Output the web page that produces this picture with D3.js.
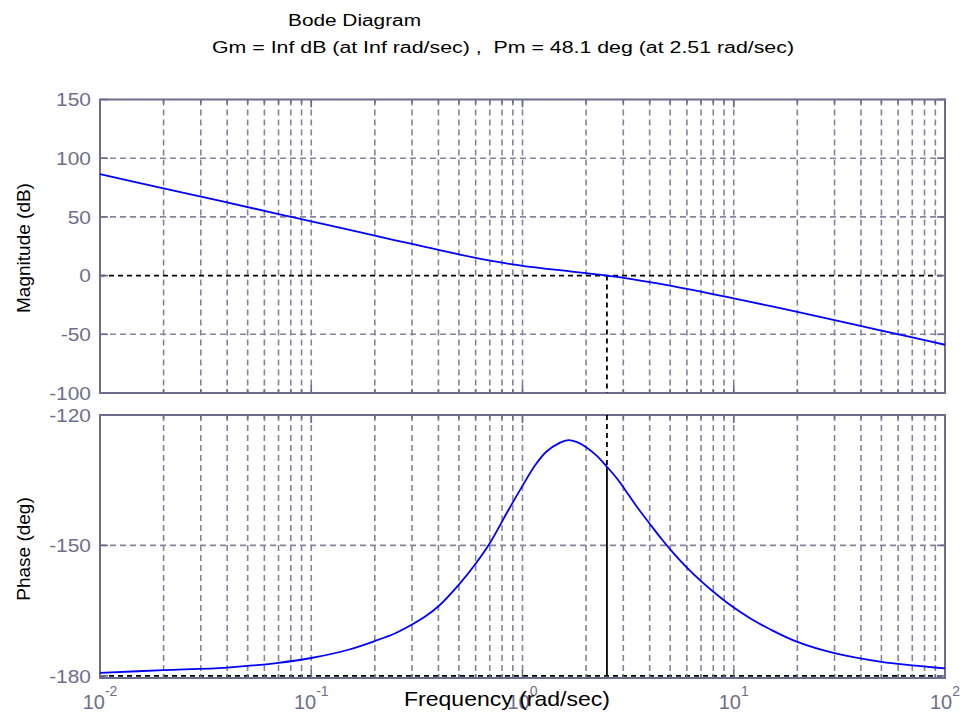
<!DOCTYPE html>
<html>
<head>
<meta charset="utf-8">
<script src="https://cdn.jsdelivr.net/npm/d3@7"></script>
<style>
  body { margin: 0; background: #fff; }
  text { font-family: "Liberation Sans", Arial, sans-serif; }
</style>
</head>
<body>
<div id="chart"></div>
<script>
        // Data
        const freq = [0.01, 0.02, 0.04, 0.07, 0.1, 0.15, 0.2, 0.25, 0.3, 0.35, 0.4, 0.5, 0.6, 0.7, 0.85, 1, 1.15, 1.3, 1.5, 1.65, 1.8, 2, 2.25, 2.51, 2.8, 3, 3.5, 4, 4.5, 5, 6, 7, 8.5, 10, 12, 15, 20, 30, 50, 70, 100];
        const magDb = [86.5, 74.3, 62.3, 52.4, 46.2, 39.1, 34.0, 30.1, 27.0, 24.3, 22.0, 18.0, 15.0, 12.7, 10.2, 8.3, 7.0, 5.8, 4.6, 3.8, 3.0, 2.1, 1.0, 0.0, -1.15, -1.9, -3.8, -5.5, -7.1, -8.6, -11.3, -13.7, -16.8, -19.4, -22.4, -26.1, -30.9, -37.9, -46.8, -52.7, -58.9];
        const phaseDeg = [-179.3, -178.7, -178.1, -177.0, -175.9, -174.0, -172.0, -170.2, -168.2, -166.2, -164.0, -159.0, -154.2, -149.5, -142.2, -136.3, -131.5, -128.4, -126.4, -125.8, -126.2, -127.4, -129.4, -131.9, -134.6, -136.6, -141.3, -145.0, -148.2, -150.9, -155.1, -158.2, -161.7, -164.3, -166.8, -169.4, -172.2, -174.8, -176.8, -177.6, -178.3];
        const magTicks = [150, 100, 50, 0, -50, -100];
        const phaseTicks = [-120, -150, -180];
        const decadeExps = [-2, -1, 0, 1, 2];
        const crossFreq = 2.51;
        const phaseAtCross = -131.9;
        const titleLine1 = "Bode Diagram";
        const titleLine2 = "Gm = Inf dB (at Inf rad/sec) ,  Pm = 48.1 deg (at 2.51 rad/sec)";

        const width = 963;
        const height = 715;
        const axisColor = "#6c6c8c";
        const gridColor = "#8484a0";
        const labelColor = "#6e6e8a";

        const svg = d3.select("#chart")
            .append("svg")
            .attr("width", width)
            .attr("height", height);

        const x = d3.scaleLog().domain([0.01, 100]).range([100, 945]);
        const yMag = d3.scaleLinear().domain([-100, 150]).range([393, 99.5]);
        const yPh = d3.scaleLinear().domain([-180.5, -120]).range([678, 415]);

        // all 1..9 x 10^n positions
        const gridX = [];
        decadeExps.slice(0, -1).forEach(e => {
            for (let k = 1; k <= 9; k++) gridX.push({ v: k * Math.pow(10, e), major: k === 1 });
        });
        gridX.push({ v: 100, major: true });

        // stretch text horizontally
        function stretch(sel, factor) {
            sel.each(function () {
                const w = this.getComputedTextLength();
                d3.select(this).attr("textLength", w * factor).attr("lengthAdjust", "spacingAndGlyphs");
            });
        }

        function drawPanel(y, ticks, refValue) {
            const g = svg.append("g");
            const [y0, y1] = y.range();
            const top = Math.min(y0, y1), bottom = Math.max(y0, y1);

            // vertical grid
            g.selectAll(".vgrid")
                .data(gridX.filter(d => d.v > 0.01 && d.v < 100))
                .enter()
                .append("line")
                .attr("x1", d => x(d.v)).attr("x2", d => x(d.v))
                .attr("y1", top).attr("y2", bottom)
                .attr("stroke", gridColor)
                .attr("stroke-width", 1.6)
                .attr("stroke-dasharray", "6,4");

            // horizontal grid
            g.selectAll(".hgrid")
                .data(ticks.filter(t => y(t) > top + 1 && y(t) < bottom - 1 && t !== refValue))
                .enter()
                .append("line")
                .attr("x1", 100).attr("x2", 945)
                .attr("y1", d => y(d)).attr("y2", d => y(d))
                .attr("stroke", gridColor)
                .attr("stroke-width", 1.6)
                .attr("stroke-dasharray", "6,4");

            // reference line (0 dB / -180 deg)
            g.append("line")
                .attr("x1", 100).attr("x2", 945)
                .attr("y1", y(refValue)).attr("y2", y(refValue))
                .attr("stroke", "#000")
                .attr("stroke-width", 1.8)
                .attr("stroke-dasharray", "5,4");

            // inward ticks
            gridX.forEach(d => {
                const len = d.major ? 8 : 4;
                g.append("line").attr("x1", x(d.v)).attr("x2", x(d.v))
                    .attr("y1", bottom).attr("y2", bottom - len)
                    .attr("stroke", axisColor).attr("stroke-width", 1.6);
                g.append("line").attr("x1", x(d.v)).attr("x2", x(d.v))
                    .attr("y1", top).attr("y2", top + len)
                    .attr("stroke", axisColor).attr("stroke-width", 1.6);
            });
            ticks.forEach(t => {
                g.append("line").attr("x1", 100).attr("x2", 108)
                    .attr("y1", y(t)).attr("y2", y(t))
                    .attr("stroke", axisColor).attr("stroke-width", 1.6);
                g.append("line").attr("x1", 945).attr("x2", 937)
                    .attr("y1", y(t)).attr("y2", y(t))
                    .attr("stroke", axisColor).attr("stroke-width", 1.6);
            });

            // box
            g.append("rect")
                .attr("x", 100).attr("y", top)
                .attr("width", 845).attr("height", bottom - top)
                .attr("fill", "none")
                .attr("stroke", axisColor)
                .attr("stroke-width", 2);

            // y tick labels
            const lbl = g.selectAll(".ylab")
                .data(ticks)
                .enter()
                .append("text")
                .attr("x", 91)
                .attr("y", d => y(d))
                .attr("dy", "0.36em")
                .attr("text-anchor", "end")
                .attr("font-size", "19px")
                .attr("fill", labelColor)
                .text(d => d);
            stretch(lbl, 1.1);
            return g;
        }

        const gMag = drawPanel(yMag, magTicks, 0);
        const gPh = drawPanel(yPh, phaseTicks, -180);

        // crossover markers
        gMag.append("line")
            .attr("x1", x(crossFreq)).attr("x2", x(crossFreq))
            .attr("y1", yMag(0)).attr("y2", 393)
            .attr("stroke", "#000").attr("stroke-width", 1.8)
            .attr("stroke-dasharray", "5,4");
        gPh.append("line")
            .attr("x1", x(crossFreq)).attr("x2", x(crossFreq))
            .attr("y1", 415).attr("y2", yPh(phaseAtCross))
            .attr("stroke", "#000").attr("stroke-width", 1.8)
            .attr("stroke-dasharray", "5,4");
        gPh.append("line")
            .attr("x1", x(crossFreq)).attr("x2", x(crossFreq))
            .attr("y1", yPh(phaseAtCross)).attr("y2", yPh(-180))
            .attr("stroke", "#000").attr("stroke-width", 1.8);

        // curves
        const magLine = d3.line()
            .x((d, i) => x(freq[i]))
            .y(d => yMag(d))
            .curve(d3.curveCatmullRom.alpha(0.5));
        const phLine = d3.line()
            .x((d, i) => x(freq[i]))
            .y(d => yPh(d))
            .curve(d3.curveCatmullRom.alpha(0.5));

        gMag.append("path").attr("d", magLine(magDb))
            .attr("fill", "none").attr("stroke", "#0000ff").attr("stroke-width", 1.8);
        gPh.append("path").attr("d", phLine(phaseDeg))
            .attr("fill", "none").attr("stroke", "#0000ff").attr("stroke-width", 1.8);

        // x tick labels: 10 with exponent
        decadeExps.forEach(e => {
            const t = svg.append("text")
                .attr("y", 709)
                .attr("fill", labelColor)
                .attr("font-size", "20px");
            t.append("tspan").text("10");
            t.append("tspan").attr("font-size", "14px").attr("dy", -13).text(e);
            const w = t.node().getComputedTextLength();
            t.attr("x", x(Math.pow(10, e)) - w / 2);
        });

        // axis labels
        svg.append("text")
            .attr("x", 507).attr("y", 706)
            .attr("text-anchor", "middle")
            .attr("font-size", "21px")
            .attr("textLength", 206).attr("lengthAdjust", "spacingAndGlyphs")
            .text("Frequency (rad/sec)");
        svg.append("text")
            .attr("transform", "translate(30,248) rotate(-90)")
            .attr("text-anchor", "middle")
            .attr("font-size", "19px")
            .text("Magnitude (dB)");
        svg.append("text")
            .attr("transform", "translate(30,549) rotate(-90)")
            .attr("text-anchor", "middle")
            .attr("font-size", "19px")
            .text("Phase (deg)");

        // titles
        svg.append("text")
            .attr("x", 288).attr("y", 26)
            .attr("font-size", "16px")
            .attr("textLength", 133).attr("lengthAdjust", "spacingAndGlyphs")
            .text(titleLine1);
        svg.append("text")
            .attr("x", 212).attr("y", 53)
            .attr("font-size", "16px")
            .attr("textLength", 582).attr("lengthAdjust", "spacingAndGlyphs")
            .attr("xml:space", "preserve")
            .text(titleLine2);
</script>
</body>
</html>
